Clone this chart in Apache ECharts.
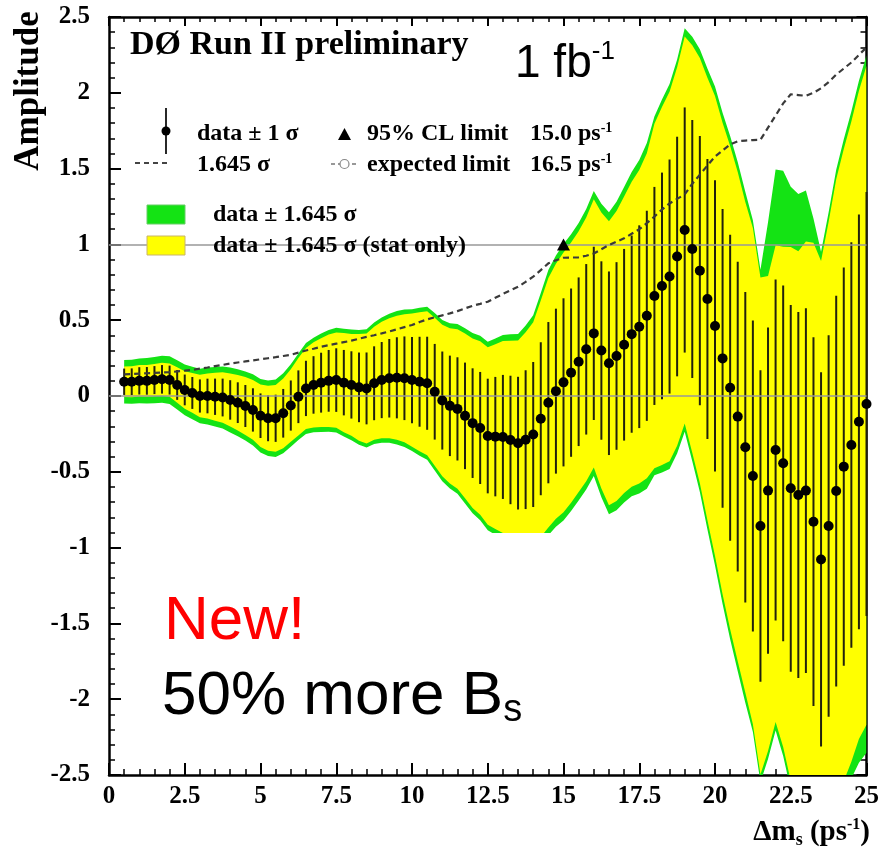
<!DOCTYPE html>
<html>
<head>
<meta charset="utf-8">
<script src="https://cdn.jsdelivr.net/npm/echarts@6/dist/echarts.min.js"></script>
<style>
  html, body { margin: 0; padding: 0; background: #ffffff; }
  #chart { width: 882px; height: 866px; }
</style>
</head>
<body>
<div id="chart"></div>
<script>
// Oscillation frequency scan points (ps^-1)
const deltaMs = [
  0.5, 0.75, 1, 1.25, 1.5, 1.75, 2, 2.25, 2.5, 2.75,
  3, 3.25, 3.5, 3.75, 4, 4.25, 4.5, 4.75, 5, 5.25,
  5.5, 5.75, 6, 6.25, 6.5, 6.75, 7, 7.25, 7.5, 7.75,
  8, 8.25, 8.5, 8.75, 9, 9.25, 9.5, 9.75, 10, 10.25,
  10.5, 10.75, 11, 11.25, 11.5, 11.75, 12, 12.25, 12.5, 12.75,
  13, 13.25, 13.5, 13.75, 14, 14.25, 14.5, 14.75, 15, 15.25,
  15.5, 15.75, 16, 16.25, 16.5, 16.75, 17, 17.25, 17.5, 17.75,
  18, 18.25, 18.5, 18.75, 19, 19.25, 19.5, 19.75, 20, 20.25,
  20.5, 20.75, 21, 21.25, 21.5, 21.75, 22, 22.25, 22.5, 22.75,
  23, 23.25, 23.5, 23.75, 24, 24.25, 24.5, 24.75, 25
];

// Fitted amplitude at each scan point
const amplitude = [
  0.094, 0.094, 0.100, 0.100, 0.105, 0.110, 0.105, 0.073, 0.040, 0.020,
  0.000, 0.000, -0.005, -0.010, -0.026, -0.044, -0.066, -0.092, -0.130, -0.147,
  -0.147, -0.114, -0.063, -0.005, 0.050, 0.073, 0.088, 0.100, 0.105, 0.088,
  0.073, 0.057, 0.050, 0.084, 0.105, 0.117, 0.120, 0.117, 0.105, 0.094,
  0.084, 0.028, -0.030, -0.065, -0.085, -0.131, -0.179, -0.211, -0.264, -0.268,
  -0.270, -0.290, -0.311, -0.288, -0.254, -0.150, -0.044, 0.032, 0.090, 0.154,
  0.226, 0.308, 0.413, 0.300, 0.216, 0.264, 0.338, 0.408, 0.457, 0.529,
  0.660, 0.726, 0.788, 0.920, 1.095, 0.970, 0.827, 0.640, 0.462, 0.248,
  0.055, -0.136, -0.338, -0.528, -0.858, -0.624, -0.356, -0.444, -0.609, -0.653,
  -0.624, -0.829, -1.078, -0.858, -0.627, -0.466, -0.323, -0.170, -0.053
];

// 1.645 x total uncertainty (the dashed curve and the green band half-width)
const sigma1645 = [
  0.143, 0.145, 0.148, 0.150, 0.152, 0.155, 0.157, 0.162, 0.167, 0.173,
  0.180, 0.188, 0.197, 0.205, 0.214, 0.221, 0.228, 0.235, 0.242, 0.249,
  0.256, 0.264, 0.272, 0.286, 0.300, 0.312, 0.325, 0.335, 0.345, 0.355,
  0.365, 0.378, 0.390, 0.401, 0.413, 0.426, 0.440, 0.454, 0.468, 0.488,
  0.505, 0.519, 0.532, 0.545, 0.560, 0.578, 0.595, 0.608, 0.622, 0.648,
  0.673, 0.697, 0.720, 0.753, 0.787, 0.830, 0.875, 0.895, 0.912, 0.913,
  0.915, 0.925, 0.940, 0.968, 0.996, 1.018, 1.040, 1.070, 1.100, 1.140,
  1.183, 1.230, 1.270, 1.300, 1.330, 1.400, 1.460, 1.520, 1.580, 1.620,
  1.660, 1.680, 1.685, 1.688, 1.690, 1.770, 1.850, 1.930, 1.990, 1.985,
  1.980, 2.000, 2.030, 2.070, 2.120, 2.160, 2.200, 2.250, 2.300
];

// 1.645 x statistical uncertainty, upper and lower side (yellow band)
const statUp = [
  0.100, 0.102, 0.104, 0.105, 0.106, 0.109, 0.110, 0.117, 0.124, 0.131,
  0.140, 0.149, 0.158, 0.166, 0.175, 0.183, 0.192, 0.197, 0.206, 0.214,
  0.220, 0.230, 0.239, 0.255, 0.267, 0.281, 0.293, 0.305, 0.314, 0.327,
  0.336, 0.352, 0.363, 0.373, 0.384, 0.396, 0.409, 0.422, 0.440, 0.459,
  0.475, 0.488, 0.500, 0.512, 0.526, 0.543, 0.559, 0.572, 0.585, 0.609,
  0.633, 0.655, 0.677, 0.708, 0.740, 0.780, 0.823, 0.841, 0.857, 0.858,
  0.860, 0.870, 0.884, 0.910, 0.936, 0.957, 0.978, 1.006, 1.034, 1.072,
  1.136, 1.181, 1.219, 1.248, 1.277, 1.344, 1.402, 1.459, 1.517, 1.555,
  1.594, 1.613, 1.618, 1.637, 1.639, 1.416, 1.351, 1.428, 1.592, 1.608,
  1.643, 1.840, 1.969, 2.008, 2.056, 2.095, 2.134, 2.183, 2.231
];
const statDown = [
  0.100, 0.102, 0.104, 0.105, 0.106, 0.109, 0.110, 0.117, 0.124, 0.131,
  0.140, 0.149, 0.158, 0.166, 0.175, 0.183, 0.192, 0.197, 0.206, 0.214,
  0.220, 0.230, 0.239, 0.255, 0.267, 0.281, 0.293, 0.305, 0.314, 0.327,
  0.336, 0.352, 0.363, 0.373, 0.384, 0.396, 0.409, 0.422, 0.440, 0.459,
  0.475, 0.488, 0.500, 0.512, 0.526, 0.543, 0.559, 0.572, 0.585, 0.609,
  0.633, 0.655, 0.677, 0.708, 0.740, 0.780, 0.823, 0.841, 0.857, 0.858,
  0.860, 0.870, 0.884, 0.910, 0.936, 0.957, 0.978, 1.006, 1.034, 1.072,
  1.136, 1.181, 1.219, 1.248, 1.277, 1.344, 1.402, 1.459, 1.517, 1.555,
  1.594, 1.613, 1.618, 1.637, 1.639, 1.717, 1.795, 1.872, 1.930, 1.925,
  1.921, 1.940, 1.969, 2.008, 2.056, 2.074, 2.090, 2.093, 2.116
];

// Limits quoted in the legend
const observedLimit = 15.0;
const expectedLimit = 16.5;
const limitAmplitude = 1.0;

// Axis ranges and tick steps
const xRange = [0, 25];
const xStep = 2.5;
const yRange = [-2.5, 2.5];
const yStep = 0.5;

const SERIF = '"Liberation Serif", "Times New Roman", serif';
const SANS = '"Liberation Sans", Arial, sans-serif';
const LEGEND_FONT = 'bold 24px ' + SERIF;

const chart = echarts.init(document.getElementById('chart'), null, { renderer: 'canvas' });

// One closed polygon following an upper and a lower edge along deltaMs
function bandSeries(name, upperAt, lowerAt, fill, z) {
  return {
    name: name,
    type: 'custom',
    silent: true,
    clip: true,
    z: z,
    data: [[deltaMs[0], amplitude[0]]],
    renderItem: function (params, api) {
      const pts = [];
      for (let i = 0; i < deltaMs.length; i++) pts.push(api.coord([deltaMs[i], upperAt(i)]));
      for (let i = deltaMs.length - 1; i >= 0; i--) pts.push(api.coord([deltaMs[i], lowerAt(i)]));
      const cs = params.coordSys;
      return {
        type: 'polygon',
        shape: { points: pts },
        style: { fill: fill, stroke: null },
        clipPath: { type: 'rect', shape: { x: cs.x, y: cs.y, width: cs.width, height: cs.height } }
      };
    }
  };
}

// Legend line with a superscript -1 at the end
function supText(x, y, main, sup) {
  return {
    type: 'text', x: x, y: y, z: 50,
    style: {
      text: '{a|' + main + '}{s|' + sup + '}',
      verticalAlign: 'middle',
      rich: {
        a: { fontFamily: SERIF, fontWeight: 'bold', fontSize: 24, lineHeight: 26, fill: '#000' },
        s: { fontFamily: SERIF, fontWeight: 'bold', fontSize: 14, lineHeight: 14, verticalAlign: 'top', fill: '#000' }
      }
    }
  };
}

const axisBase = {
  type: 'value',
  axisLine: { show: true, onZero: false, lineStyle: { color: '#000', width: 2.5 } },
  axisTick: { show: true, inside: true, length: 12, lineStyle: { color: '#000', width: 2 } },
  minorTick: { show: true, splitNumber: 5, length: 6, lineStyle: { color: '#000', width: 1.5 } },
  splitLine: { show: false },
  minorSplitLine: { show: false }
};
const tickFont = { fontFamily: SERIF, fontWeight: 'bold', fontSize: 25, color: '#000' };

const option = {
  animation: false,
  backgroundColor: '#ffffff',
  grid: { left: 109, right: 15, top: 17, bottom: 91, containLabel: false },
  xAxis: [
    Object.assign({}, axisBase, {
      min: xRange[0], max: xRange[1], interval: xStep, position: 'bottom',
      axisLabel: Object.assign({ margin: 9 }, tickFont)
    }),
    Object.assign({}, axisBase, {
      min: xRange[0], max: xRange[1], interval: xStep, position: 'top',
      axisTick: { show: true, inside: true, length: 9, lineStyle: { color: '#000', width: 2 } },
      minorTick: { show: true, splitNumber: 5, length: 5, lineStyle: { color: '#000', width: 1.5 } },
      axisLabel: { show: false }
    })
  ],
  yAxis: [
    Object.assign({}, axisBase, {
      min: yRange[0], max: yRange[1], interval: yStep, position: 'left',
      axisLabel: Object.assign({ margin: 19 }, tickFont)
    }),
    Object.assign({}, axisBase, {
      min: yRange[0], max: yRange[1], interval: yStep, position: 'right',
      axisTick: { show: true, inside: true, length: 10, lineStyle: { color: '#000', width: 2 } },
      axisLabel: { show: false }
    })
  ],
  series: [
    // data +- 1.645 sigma (total)
    bandSeries('total', i => amplitude[i] + sigma1645[i], i => amplitude[i] - sigma1645[i], '#14e314', 2),
    // data +- 1.645 sigma (stat only)
    bandSeries('stat', i => amplitude[i] + statUp[i], i => amplitude[i] - statDown[i], '#ffff00', 3),
    // +-1 sigma error bars, with the zero and unit amplitude reference lines
    {
      name: 'errors',
      type: 'custom',
      silent: true,
      z: 4,
      data: deltaMs.map((x, i) => [x, amplitude[i] - sigma1645[i] / 1.645, amplitude[i] + sigma1645[i] / 1.645]),
      encode: { x: 0, y: [1, 2] },
      renderItem: function (params, api) {
        const lo = api.coord([api.value(0), api.value(1)]);
        const hi = api.coord([api.value(0), api.value(2)]);
        return {
          type: 'line',
          shape: { x1: lo[0], y1: lo[1], x2: hi[0], y2: hi[1] },
          style: { stroke: '#22220c', lineWidth: 2 }
        };
      },
      markLine: {
        silent: true,
        symbol: 'none',
        label: { show: false },
        lineStyle: { color: '#999999', width: 1.5, type: 'solid' },
        data: [{ yAxis: 0 }, { yAxis: limitAmplitude }]
      }
    },
    // 1.645 sigma curve
    {
      name: '1.645 sigma',
      type: 'line',
      z: 5,
      silent: true,
      symbol: 'none',
      data: deltaMs.map((x, i) => [x, sigma1645[i]]),
      lineStyle: { color: '#3a3a3a', width: 2.2, type: [6, 4] }
    },
    // Amplitude points
    {
      name: 'data',
      type: 'scatter',
      z: 6,
      silent: true,
      symbol: 'circle',
      symbolSize: 10,
      data: deltaMs.map((x, i) => [x, amplitude[i]]),
      itemStyle: { color: '#000', opacity: 1 }
    },
    // 95% CL limit marker
    {
      name: 'limit',
      type: 'scatter',
      z: 7,
      silent: true,
      symbol: 'triangle',
      symbolSize: [13, 12],
      data: [[observedLimit, limitAmplitude]],
      itemStyle: { color: '#000', opacity: 1 }
    }
  ],
  graphic: [
    // axis titles
    {
      type: 'text', x: 29, y: 91, rotation: Math.PI / 2, z: 50,
      style: { text: 'Amplitude', font: 'bold 35px ' + SERIF, fill: '#000', align: 'center', verticalAlign: 'middle' }
    },
    {
      type: 'text', x: 870, y: 833, z: 50,
      style: {
        text: '{a|\u0394m}{b|s}{a| (ps}{c|-1}{a|)}',
        align: 'right', verticalAlign: 'middle',
        rich: {
          a: { fontFamily: SERIF, fontWeight: 'bold', fontSize: 29, lineHeight: 32, fill: '#000' },
          b: { fontFamily: SERIF, fontWeight: 'bold', fontSize: 18, lineHeight: 14, verticalAlign: 'bottom', fill: '#000' },
          c: { fontFamily: SERIF, fontWeight: 'bold', fontSize: 16, lineHeight: 14, verticalAlign: 'top', fill: '#000' }
        }
      }
    },
    // experiment label
    {
      type: 'text', x: 130, y: 45, z: 50,
      style: { text: 'D\u00d8 Run II preliminary', font: 'bold 34px ' + SERIF, fill: '#000', verticalAlign: 'middle' }
    },
    {
      type: 'text', x: 515, y: 64, z: 50,
      style: {
        text: '{a|1 fb}{s|-1}',
        verticalAlign: 'middle',
        rich: {
          a: { fontFamily: SANS, fontSize: 46, lineHeight: 50, fill: '#000' },
          s: { fontFamily: SANS, fontSize: 26, lineHeight: 28, verticalAlign: 'top', fill: '#000' }
        }
      }
    },
    // legend: data +- 1 sigma
    { type: 'line', z: 50, shape: { x1: 166, y1: 108, x2: 166, y2: 154 }, style: { stroke: '#111', lineWidth: 1.8 } },
    { type: 'circle', z: 50, shape: { cx: 166, cy: 131, r: 4.5 }, style: { fill: '#000' } },
    {
      type: 'text', x: 197, y: 134, z: 50,
      style: { text: 'data \u00b1 1 \u03c3', font: LEGEND_FONT, fill: '#000', verticalAlign: 'middle' }
    },
    // legend: 95% CL limit
    { type: 'polygon', z: 50, shape: { points: [[338, 140], [351, 140], [344.5, 128]] }, style: { fill: '#000' } },
    {
      type: 'text', x: 367, y: 134, z: 50,
      style: { text: '95% CL limit', font: LEGEND_FONT, fill: '#000', verticalAlign: 'middle' }
    },
    supText(530, 134, observedLimit.toFixed(1) + ' ps', '-1'),
    // legend: 1.645 sigma
    { type: 'line', z: 50, shape: { x1: 135, y1: 163, x2: 171, y2: 163 }, style: { stroke: '#444', lineWidth: 2, lineDash: [5, 4] } },
    {
      type: 'text', x: 197, y: 165, z: 50,
      style: { text: '1.645 \u03c3', font: LEGEND_FONT, fill: '#000', verticalAlign: 'middle' }
    },
    // legend: expected limit
    { type: 'line', z: 50, shape: { x1: 331, y1: 164, x2: 358, y2: 164 }, style: { stroke: '#777', lineWidth: 1.5, lineDash: [4, 3] } },
    { type: 'circle', z: 51, shape: { cx: 344.5, cy: 164, r: 4.5 }, style: { fill: '#fff', stroke: '#888', lineWidth: 1.2 } },
    {
      type: 'text', x: 367, y: 165, z: 50,
      style: { text: 'expected limit', font: LEGEND_FONT, fill: '#000', verticalAlign: 'middle' }
    },
    supText(530, 165, expectedLimit.toFixed(1) + ' ps', '-1'),
    // legend: bands
    { type: 'rect', z: 50, shape: { x: 147, y: 205, width: 38, height: 19 }, style: { fill: '#14e314', stroke: '#6c6', lineWidth: 1 } },
    {
      type: 'text', x: 213, y: 215, z: 50,
      style: { text: 'data \u00b1 1.645 \u03c3', font: LEGEND_FONT, fill: '#000', verticalAlign: 'middle' }
    },
    { type: 'rect', z: 50, shape: { x: 147, y: 236, width: 38, height: 19 }, style: { fill: '#ffff00', stroke: '#c8b46a', lineWidth: 1 } },
    {
      type: 'text', x: 213, y: 246, z: 50,
      style: { text: 'data \u00b1 1.645 \u03c3 (stat only)', font: LEGEND_FONT, fill: '#000', verticalAlign: 'middle' }
    },
    // announcement box
    { type: 'rect', z: 60, shape: { x: 125, y: 533, width: 433, height: 227 }, style: { fill: '#ffffff' } },
    {
      type: 'text', x: 164, y: 622, z: 61,
      style: { text: 'New!', font: '62px ' + SANS, fill: '#ff0000', verticalAlign: 'middle' }
    },
    {
      type: 'text', x: 162, y: 697, z: 61,
      style: {
        text: '{a|50% more B}{s|s}',
        verticalAlign: 'middle',
        rich: {
          a: { fontFamily: SANS, fontSize: 62, lineHeight: 66, fill: '#000' },
          s: { fontFamily: SANS, fontSize: 38, lineHeight: 30, verticalAlign: 'bottom', fill: '#000' }
        }
      }
    }
  ]
};

chart.setOption(option);
</script>
</body>
</html>
